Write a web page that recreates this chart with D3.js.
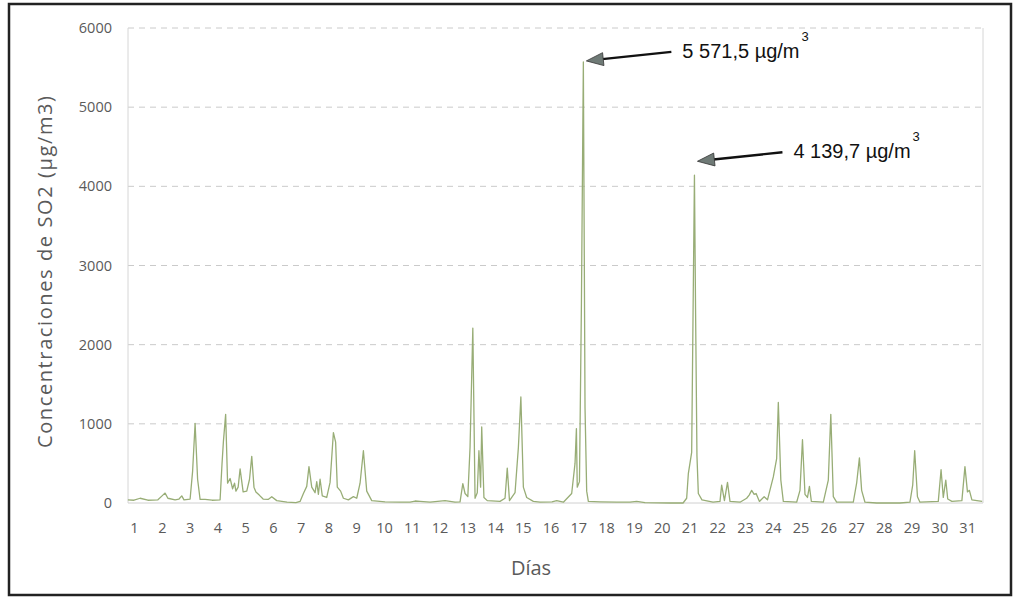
<!DOCTYPE html>
<html>
<head>
<meta charset="utf-8">
<script src="https://cdn.jsdelivr.net/npm/d3@7"></script>
<style>
  body { margin: 0; background: #fff; }
  svg { display: block; }
</style>
</head>
<body>
<div id="chart"></div>
<script>
// dias (fraccion de dia) y concentraciones de SO2
var dias = [0.78, 1.00, 1.22, 1.50, 1.86, 2.01, 2.12, 2.22, 2.48, 2.62, 2.72, 2.80,
    3.02, 3.11, 3.20, 3.29, 3.38, 3.56, 3.81, 4.10, 4.17, 4.22, 4.30, 4.37, 4.46,
    4.55, 4.62, 4.67, 4.75, 4.82, 4.93, 5.06, 5.16, 5.24, 5.32, 5.39, 5.51, 5.65,
    5.83, 5.96, 6.14, 6.51, 6.83, 6.98, 7.10, 7.22, 7.30, 7.40, 7.52, 7.58, 7.64,
    7.70, 7.78, 7.94, 8.06, 8.18, 8.26, 8.32, 8.44, 8.54, 8.72, 8.90, 9.02, 9.14,
    9.26, 9.38, 9.56, 10.04, 10.58, 10.94, 11.12, 11.30, 11.66, 12.20, 12.56, 12.74,
    12.84, 12.92, 13.02, 13.10, 13.20, 13.28, 13.36, 13.42, 13.48, 13.52, 13.60,
    13.72, 14.18, 14.36, 14.44, 14.52, 14.72, 14.84, 14.93, 15.02, 15.14, 15.38,
    15.62, 16.05, 16.22, 16.46, 16.76, 16.88, 16.93, 16.96, 17.04, 17.11, 17.18,
    17.24, 17.30, 17.36, 17.78, 18.38, 18.86, 19.10, 19.40, 20.30, 20.77, 20.90,
    20.96, 21.08, 21.13, 21.18, 21.22, 21.27, 21.32, 21.45, 21.85, 22.10, 22.16,
    22.26, 22.37, 22.46, 22.82, 23.06, 23.15, 23.24, 23.33, 23.40, 23.52, 23.69,
    23.81, 24.02, 24.14, 24.20, 24.29, 24.38, 24.86, 24.98, 25.07, 25.16, 25.25,
    25.32, 25.39, 25.82, 26.00, 26.09, 26.18, 26.30, 26.90, 27.02, 27.12, 27.20,
    27.32, 27.74, 28.58, 28.94, 29.04, 29.11, 29.21, 29.30, 29.96, 30.06, 30.14,
    30.23, 30.30, 30.45, 30.81, 30.92, 31.01, 31.08, 31.17, 31.35, 31.54];

var so2 = [40, 35, 60, 35, 40, 90, 125, 60, 40, 50, 90, 40,
    50, 400, 1005, 300, 45, 45, 35, 40, 500, 780, 1120, 250, 310,
    180, 250, 150, 200, 430, 140, 150, 300, 590, 200, 140, 100, 50,
    45, 80, 30, 10, 5, 20, 120, 210, 460, 200, 130, 270, 110,
    300, 90, 70, 260, 890, 770, 200, 150, 60, 40, 80, 60, 250,
    660, 150, 30, 15, 10, 12, 25, 20, 10, 30, 10, 15,
    245, 120, 80, 700, 2210, 60, 130, 660, 200, 960, 70,
    30, 20, 60, 440, 30, 130, 700, 1340, 200, 70, 20,
    10, 15, 30, 10, 120, 500, 940, 200, 270, 2500, 5571.5,
    1200, 150, 20, 15, 10, 10, 20, 5, 0, 0, 60,
    370, 640, 2400, 4139.7, 2450, 600, 120, 40, 10, 20, 225,
    30, 260, 20, 10, 60, 100, 160, 110, 120, 20, 80,
    40, 330, 560, 1270, 290, 20, 10, 160, 800, 110, 70,
    210, 20, 10, 290, 1120, 80, 10, 10, 250, 570, 160,
    10, 0, 0, 10, 230, 660, 80, 10, 20, 420, 70,
    290, 50, 20, 30, 460, 140, 160, 40, 30, 20];

var diasTicks = d3.range(1, 32);
var yTicks = [0, 1000, 2000, 3000, 4000, 5000, 6000];

// picos anotados (elevacion de la punta de flecha sobre el pico, en px)
var picos = [
    { dia: 17.18, valor: 5571.5, texto: "5 571,5 µg/m", sobre: 1 },
    { dia: 21.18, valor: 4139.7, texto: "4 139,7 µg/m", sobre: 14 }
];

var width = 1019, height = 598;
var plotLeft = 128, plotRight = 983, plotTop = 28, plotBottom = 503;

var svg = d3.select("#chart").append("svg")
    .attr("width", width)
    .attr("height", height);

// marco exterior
svg.append("rect")
    .attr("x", 9).attr("y", 4)
    .attr("width", 1002).attr("height", 591)
    .attr("fill", "none")
    .attr("stroke", "#222")
    .attr("stroke-width", 2.5);

var x = d3.scaleLinear().domain([0.784, 31.57]).range([plotLeft, plotRight]);
var y = d3.scaleLinear().domain([0, 6000]).range([plotBottom, plotTop]);

// lineas de cuadricula
svg.append("g").selectAll("line")
    .data(yTicks.filter(function(d) { return d > 0; }))
    .enter().append("line")
    .attr("x1", plotLeft).attr("x2", plotRight)
    .attr("y1", function(d) { return y(d); })
    .attr("y2", function(d) { return y(d); })
    .attr("stroke", "#cacaca")
    .attr("stroke-width", 1)
    .attr("stroke-dasharray", "6,5");

// bordes del area de trazado
svg.append("line")
    .attr("x1", plotLeft).attr("x2", plotLeft).attr("y1", plotTop).attr("y2", plotBottom)
    .attr("stroke", "#d6d6d6");
svg.append("line")
    .attr("x1", plotRight).attr("x2", plotRight).attr("y1", plotTop).attr("y2", plotBottom)
    .attr("stroke", "#d6d6d6");
svg.append("line")
    .attr("x1", plotLeft).attr("x2", plotRight).attr("y1", plotBottom).attr("y2", plotBottom)
    .attr("stroke", "#d0d0d0");

// ejes
var yAxis = svg.append("g")
    .attr("transform", "translate(" + (plotLeft - 16) + ",0)")
    .call(d3.axisLeft(y).tickValues(yTicks).tickSize(0).tickFormat(d3.format("d")));
yAxis.select(".domain").remove();
yAxis.selectAll("text")
    .attr("x", 0)
    .style("font-family", "'Open Sans', sans-serif")
    .style("font-size", "14.5px")
    .attr("fill", "#5a5a5a");

var xAxis = svg.append("g")
    .attr("transform", "translate(0," + (plotBottom + 20) + ")")
    .call(d3.axisBottom(x).tickValues(diasTicks).tickSize(0).tickFormat(d3.format("d")));
xAxis.select(".domain").remove();
xAxis.selectAll("text")
    .attr("y", 0)
    .attr("dy", "0.71em")
    .style("font-family", "'Open Sans', sans-serif")
    .style("font-size", "14.5px")
    .attr("fill", "#5a5a5a");

// serie
var linea = d3.line()
    .x(function(d, i) { return x(dias[i]); })
    .y(function(d) { return y(d); });

svg.append("path")
    .datum(so2)
    .attr("d", linea)
    .attr("fill", "none")
    .attr("stroke", "#98ad76")
    .attr("stroke-width", 1.3)
    .attr("stroke-linejoin", "round");

// titulos
svg.append("text")
    .attr("transform", "translate(52,272) rotate(-90)")
    .attr("text-anchor", "middle")
    .attr("textLength", 352)
    .attr("lengthAdjust", "spacing")
    .style("font-family", "'Open Sans', sans-serif")
    .style("font-size", "20px")
    .attr("fill", "#5a5a5a")
    .text("Concentraciones de SO2 (µg/m3)");

svg.append("text")
    .attr("x", 531).attr("y", 575)
    .attr("text-anchor", "middle")
    .style("font-family", "'Open Sans', sans-serif")
    .style("font-size", "20px")
    .attr("fill", "#5a5a5a")
    .text("Días");

// anotaciones con flechas: punta junto al pico, cola hacia el texto
var headLen = 17, headHalf = 6.5;

function flecha(d) {
    var tx = x(d.dia) + 3, ty = y(d.valor) - d.sobre;
    var ex = x(d.dia) + 88, ey = ty - 9;
    var len = Math.hypot(ex - tx, ey - ty);
    var ux = (ex - tx) / len, uy = (ey - ty) / len;
    var bx = tx + ux * headLen, by = ty + uy * headLen;
    return { tx: tx, ty: ty, ex: ex, ey: ey, bx: bx, by: by,
             nx: -uy * headHalf, ny: ux * headHalf };
}

var ann = svg.append("g").selectAll("g")
    .data(picos)
    .enter().append("g");

ann.append("line")
    .attr("x1", function(d) { return flecha(d).bx - 1; })
    .attr("y1", function(d) { return flecha(d).by; })
    .attr("x2", function(d) { return flecha(d).ex; })
    .attr("y2", function(d) { return flecha(d).ey; })
    .attr("stroke", "#111")
    .attr("stroke-width", 2.4);

ann.append("path")
    .attr("d", function(d) {
        var f = flecha(d);
        return "M" + f.tx + "," + f.ty +
               "L" + (f.bx + f.nx) + "," + (f.by + f.ny) +
               "L" + (f.bx - f.nx) + "," + (f.by - f.ny) + "Z";
    })
    .attr("fill", "#6f7a76")
    .attr("stroke", "#333")
    .attr("stroke-width", 0.8)
    .attr("stroke-linejoin", "round");

var etiquetas = ann.append("text")
    .attr("x", function(d) { return x(d.dia) + 99; })
    .attr("y", function(d) { return y(d.valor) - d.sobre - 3; })
    .style("font-family", "'Liberation Sans', Arial, sans-serif")
    .style("font-size", "20px")
    .attr("fill", "#111");
etiquetas.append("tspan").text(function(d) { return d.texto; });
etiquetas.append("tspan")
    .attr("dx", 2)
    .attr("dy", -17)
    .style("font-size", "13px")
    .text("3");
</script>
</body>
</html>
